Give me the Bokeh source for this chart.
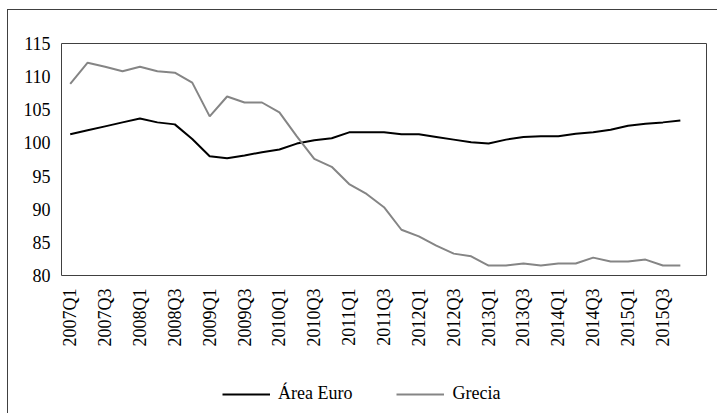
from bokeh.plotting import figure
from bokeh.models import Range1d, FixedTicker, Legend, LegendItem
from bokeh.layouts import column
from bokeh.embed import file_html
from bokeh.resources import INLINE

quarters = [
    "2007Q1", "2007Q2", "2007Q3", "2007Q4",
    "2008Q1", "2008Q2", "2008Q3", "2008Q4",
    "2009Q1", "2009Q2", "2009Q3", "2009Q4",
    "2010Q1", "2010Q2", "2010Q3", "2010Q4",
    "2011Q1", "2011Q2", "2011Q3", "2011Q4",
    "2012Q1", "2012Q2", "2012Q3", "2012Q4",
    "2013Q1", "2013Q2", "2013Q3", "2013Q4",
    "2014Q1", "2014Q2", "2014Q3", "2014Q4",
    "2015Q1", "2015Q2", "2015Q3", "2015Q4",
]

area_euro = [
    101.3, 101.9, 102.5, 103.1, 103.7, 103.1, 102.8, 100.6,
    98.0, 97.7, 98.1, 98.6, 99.0, 99.9, 100.4, 100.7,
    101.6, 101.6, 101.6, 101.3, 101.3, 100.9, 100.5, 100.1,
    99.9, 100.5, 100.9, 101.0, 101.0, 101.4, 101.6, 102.0,
    102.6, 102.9, 103.1, 103.4,
]

grecia = [
    108.9, 112.1, 111.5, 110.8, 111.5, 110.8, 110.6, 109.1,
    104.0, 107.0, 106.1, 106.1, 104.6, 101.0, 97.6, 96.4,
    93.8, 92.3, 90.3, 86.9, 85.9, 84.5, 83.3, 82.9,
    81.5, 81.5, 81.8, 81.5, 81.8, 81.8, 82.7, 82.1,
    82.1, 82.4, 81.5, 81.5,
]

y_ticks = [80, 85, 90, 95, 100, 105, 110, 115]
series_names = ["Área Euro", "Grecia"]
series_colors = ["#000000", "#858585"]

FONT = "Liberation Serif"
FS = "18px"

x = list(range(len(quarters)))

p = figure(width=709, height=360, output_backend="svg", toolbar_location=None,
           x_range=Range1d(-0.5, len(quarters) + 0.5), y_range=Range1d(80, 115),
           min_border_left=53, min_border_right=11, min_border_top=33, min_border_bottom=95)

p.xgrid.visible = False
p.ygrid.visible = False
p.outline_line_color = "#404040"
p.outline_line_width = 1

p.line(x, area_euro, line_color=series_colors[0], line_width=2)
p.line(x, grecia, line_color=series_colors[1], line_width=2)

p.xaxis.ticker = FixedTicker(ticks=x[::2])
p.xaxis.major_label_overrides = {i: quarters[i] for i in x[::2]}
p.xaxis.major_label_orientation = 3.14159265 / 2
p.yaxis.ticker = FixedTicker(ticks=y_ticks)

for ax in (p.xaxis[0], p.yaxis[0]):
    ax.axis_line_color = None
    ax.major_tick_line_color = None
    ax.minor_tick_line_color = None
    ax.major_tick_out = 0
    ax.major_tick_in = 0
    ax.major_label_text_font = FONT
    ax.major_label_text_font_size = FS
    ax.major_label_text_color = "#000000"

p.xaxis.major_label_standoff = 13
p.yaxis.major_label_standoff = 11

# legend strip below the chart (its frame is aligned with the chart's frame)
p2 = figure(width=709, height=43, output_backend="svg", toolbar_location=None,
            x_range=Range1d(0, 1), y_range=Range1d(0, 1),
            x_axis_type=None, y_axis_type=None,
            min_border_left=0, min_border_right=0, min_border_top=0, min_border_bottom=0)
p2.xgrid.visible = False
p2.ygrid.visible = False
p2.outline_line_color = None
# legend keys: lines placed outside the visible range
k1 = p2.line([-5, -4], [-5, -4], line_color=series_colors[0], line_width=2)
k2 = p2.line([-5, -4], [-5, -4], line_color=series_colors[1], line_width=2)

legend = Legend(items=[LegendItem(label=series_names[0], renderers=[k1]),
                       LegendItem(label=series_names[1], renderers=[k2])],
                orientation="horizontal", location=(161, 9))
legend.label_text_font = FONT
legend.label_text_font_size = FS
legend.label_text_color = "#000000"
legend.border_line_color = None
legend.background_fill_alpha = 0
legend.glyph_width = 48
legend.glyph_height = 20
legend.label_standoff = 8
legend.spacing = 44
legend.padding = 0
legend.margin = 0
p2.add_layout(legend)

layout = column(p, p2, spacing=0,
                styles={"margin-left": "7px", "margin-top": "9px",
                        "border-left": "1px solid #404040",
                        "border-top": "1px solid #404040"})

open("out.html", "w").write(file_html(layout, INLINE))
